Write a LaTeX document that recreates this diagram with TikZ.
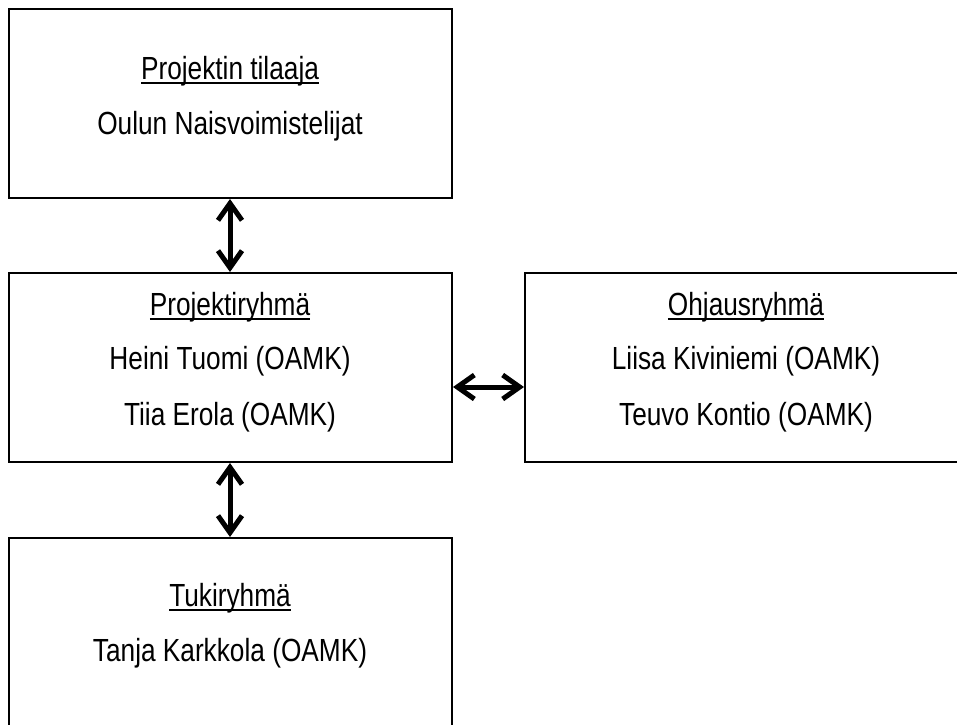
\documentclass[tikz,border=0pt]{standalone}
\usepackage{fontspec}
\setmainfont{Liberation Sans}[FakeStretch=0.82]
\newcommand\myul[1]{\setbox0\hbox{#1}\rlap{\vrule height -2.6pt depth 4.6pt width \wd0}\box0}
\usetikzlibrary{arrows.meta}
\tikzset{
  panel/.style={draw=black, line width=2pt},
  txt/.style={font=\fontsize{32}{36}\selectfont, inner sep=0pt, anchor=base},
  link/.style={line width=5pt, line cap=round, line join=round,
    {Straight Barb[length=17pt,width=24pt]}-{Straight Barb[length=17pt,width=24pt]}},
}
\begin{document}
\begin{tikzpicture}[x=1pt,y=-1pt]
\useasboundingbox (0,0) rectangle (957,724);
\fill[white] (0,0) rectangle (957,724);
% boxes
\draw[panel] (9,9) rectangle (452,198);
\draw[panel] (9,273) rectangle (452,462);
\draw[panel] (525,273) rectangle (967,462);
\draw[panel] (9,538) rectangle (452,740);
% anchors for connectors
\coordinate (topB) at (230,199);
\coordinate (midT) at (230,272);
\coordinate (midB) at (230,463);
\coordinate (botT) at (230,537);
\coordinate (midR) at (453,387);
\coordinate (rgtL) at (524,387);
% texts
\node[txt] (t1) at (230,79.5) {\myul{Projektin tilaaja}};
\node[txt] (t2) at (230,134) {Oulun Naisvoimistelijat};
\node[txt] (m1) at (230,315) {\myul{Projektiryhmä}};
\node[txt] (m2) at (230,369) {Heini Tuomi (OAMK)};
\node[txt] (m3) at (230,425) {Tiia Erola (OAMK)};
\node[txt] (r1) at (746,315) {\myul{Ohjausryhmä}};
\node[txt] (r2) at (746,369) {Liisa Kiviniemi (OAMK)};
\node[txt] (r3) at (746,425) {Teuvo Kontio (OAMK)};
\node[txt] (b1) at (230,606) {\myul{Tukiryhmä}};
\node[txt] (b2) at (230,661) {Tanja Karkkola (OAMK)};
% connectors
\draw[link] (topB) -- (midT);
\draw[link] (midB) -- (botT);
\draw[link] (midR) -- (rgtL);
\end{tikzpicture}
\end{document}
